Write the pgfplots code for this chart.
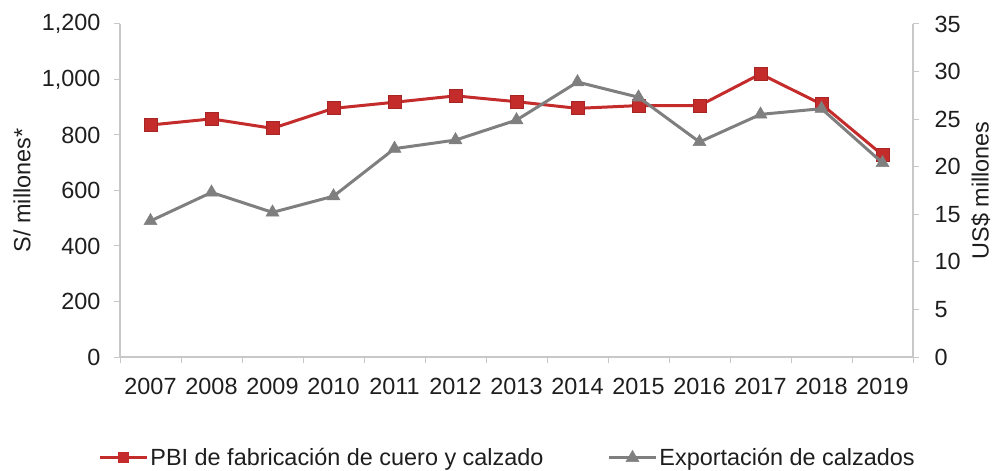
\documentclass[border=0pt]{standalone}
\usepackage{fontspec}
\setmainfont{Liberation Sans}
\usepackage{pgfplots}
\pgfplotsset{compat=1.18}
\usepackage{pgfplotstable}
\definecolor{pbired}{HTML}{C42B2B}
\definecolor{expgray}{HTML}{7F7F7F}
\definecolor{axisgray}{HTML}{C8C8C8}
\definecolor{txtgray}{HTML}{1E1E1E}

\pgfplotstableread{
x year pbi
0 2007 836
1 2008 858
2 2009 824
3 2010 896
4 2011 918
5 2012 941
6 2013 920
7 2014 896
8 2015 906
9 2016 906
10 2017 1020
11 2018 911
12 2019 728
}\pbidata

\pgfplotstableread{
x year exp
0 2007 14.3
1 2008 17.3
2 2009 15.2
3 2010 16.9
4 2011 21.9
5 2012 22.8
6 2013 24.9
7 2014 28.9
8 2015 27.3
9 2016 22.6
10 2017 25.5
11 2018 26.1
12 2019 20.4
}\expdata

\begin{document}
\begin{tikzpicture}
\useasboundingbox (0,0) rectangle (995bp,471bp);
\pgfplotsset{
  base/.style={
    at={(120bp,114bp)}, anchor=south west,
    scale only axis, width=793bp, height=333bp,
    xmin=-0.5, xmax=12.5,
    clip=false,
    /pgf/number format/assume math mode=true,
    /pgf/number format/1000 sep={,},
    tick label style={font=\fontsize{23.5}{27}\selectfont, text=txtgray},
    axis line style={-, draw=axisgray, line width=1.6bp},
    tick align=outside,
    major tick length=6bp, minor tick length=6bp,
    tick style={draw=axisgray, line width=1bp},
  },
}
\begin{axis}[base,
  axis y line*=left, axis x line*=bottom,
  ymin=0, ymax=1200, ytick={0,200,...,1200},
  xtick={0,...,12},
  xticklabels={2007,2008,2009,2010,2011,2012,2013,2014,2015,2016,2017,2018,2019},
  major x tick style={draw=none},
  minor xtick={-0.5,0.5,...,12.5},
  xticklabel style={yshift=-12bp},
  yticklabel style={xshift=-10bp},
  ylabel={S/ millones*},
  every axis y label/.style={at={(axis description cs:-0.1236,0.5)}, rotate=90, anchor=center,
    font=\fontsize{23.5}{27}\selectfont, text=txtgray},
]
\addplot[pbired, line width=3bp, mark=square*, mark size=6.5bp, mark options={fill=pbired, draw=pbired!85!black, line width=0.8bp}] table[x=x, y=pbi] {\pbidata};
\end{axis}
\begin{axis}[base,
  axis y line*=right, axis x line=none,
  ymin=0, ymax=35, ytick={0,5,...,35},
  xtick=\empty,
  yticklabel style={xshift=12bp},
  ylabel={US\$ millones},
  every axis y label/.style={at={(axis description cs:1.0855,0.5)}, rotate=90, anchor=center,
    inner sep=1bp, font=\fontsize{23.5}{27}\selectfont, text=txtgray},
  legend columns=2,
  legend style={at={(axis description cs:0.4887,-0.303)}, anchor=center, draw=none, fill=none,
    font=\fontsize{23.5}{27}\selectfont, text=txtgray,
    /tikz/every even column/.append style={column sep=62bp}},
  legend image code/.code={\draw[mark repeat=2, mark phase=2, #1] plot coordinates {(0bp,0bp) (23.5bp,0bp) (47bp,0bp)};},
]
\addlegendimage{pbired, line width=3bp, mark=square*, mark size=4bp, mark options={fill=pbired, draw=pbired}}
\addlegendentry{PBI de fabricación de cuero y calzado}
\addplot[expgray, line width=3bp, mark=triangle*, mark size=7.5bp, mark options={fill=expgray, draw=expgray, line width=0.5bp}] table[x=x, y=exp] {\expdata};
\addlegendentry{Exportación de calzados}
\end{axis}
\end{tikzpicture}
\end{document}
